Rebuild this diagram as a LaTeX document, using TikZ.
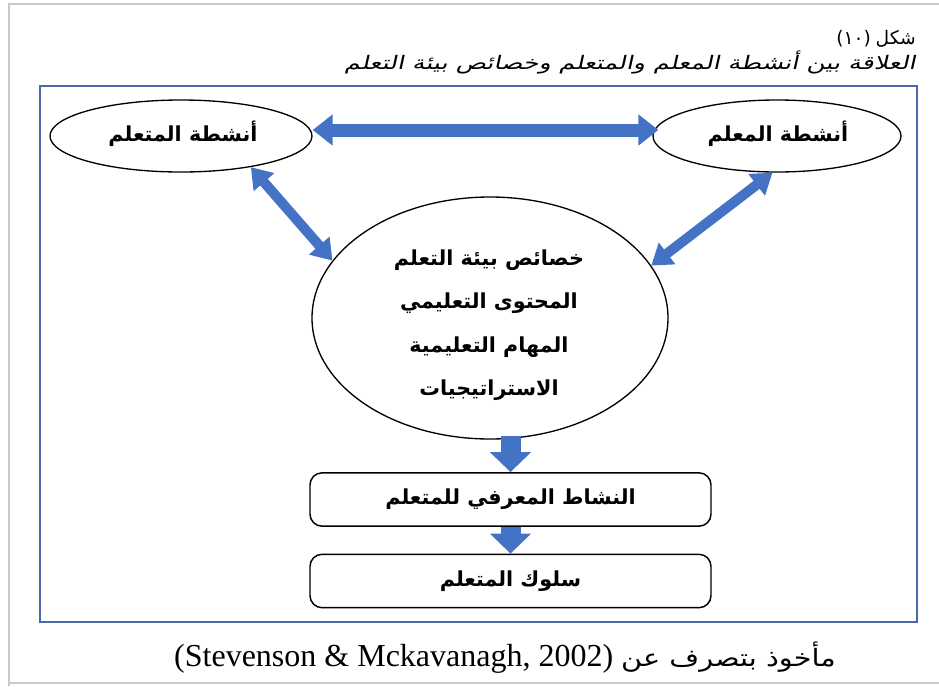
\documentclass[tikz,border=0pt]{standalone}
\usepackage{fontspec}
\setmainfont{Liberation Serif}
\newfontfamily\arabicfont[Script=Arabic]{DejaVu Sans}
\newfontfamily\arabicwide[Script=Arabic,FakeStretch=1.2]{DejaVu Sans}
\newfontfamily\arabicslant[Script=Arabic,FakeSlant=0.22,FakeStretch=1.35]{DejaVu Sans}
\newfontfamily\digitfont{DejaVu Sans}
\TeXXeTstate=1
\usetikzlibrary{arrows.meta,shapes.geometric}
\definecolor{frameblue}{HTML}{4A68AC}
\definecolor{arrowblue}{HTML}{4472C4}
\definecolor{pageedge}{HTML}{C9C9C9}
\begin{document}
\begin{tikzpicture}[x=0.75pt,y=-0.75pt,
  oval/.style={ellipse, draw=black, line width=1pt, inner sep=0pt},
  stagebox/.style={rectangle, rounded corners=9pt, draw=black, line width=1.1pt,
    minimum width=300.75pt, minimum height=40pt, inner sep=0pt},
  nodetext/.style={font=\arabicfont\bfseries\fontsize{15.5}{18}\selectfont},
  widearrow/.style={draw=arrowblue, line width=9.75pt,
    {Triangle[length=15pt,width=22.5pt]}-{Triangle[length=15pt,width=22.5pt]}},
  slantarrow/.style={draw=arrowblue, line width=7.5pt,
    {Triangle[length=15pt,width=19.5pt]}-{Triangle[length=15pt,width=19.5pt]}},
  downarrow/.style={draw=arrowblue, line width=15pt,
    -{Triangle[length=15pt,width=30pt]}}]
\useasboundingbox (0,0) rectangle (939,686);
\fill[white] (0,0) rectangle (939,686);

% page edge
\draw[pageedge, line width=1.8pt] (9,686) -- (9,4) -- (939,4);
\draw[pageedge, line width=1.8pt] (9,683) -- (939,683);

% heading above the frame
\node[anchor=east, inner sep=0pt] (fignum) at (916,39)
  {\fontsize{14}{16}\selectfont{\digitfont (١٠)} {\arabicfont\beginR شكل\endR}};
\node[anchor=east, inner sep=0pt] (figtitle) at (916,62)
  {\arabicslant\fontsize{14}{16}\selectfont\beginR العلاقة بين أنشطة المعلم والمتعلم وخصائص بيئة التعلم\endR};

% outer frame
\draw[frameblue, line width=1.5pt] (40,86) rectangle (917,622);

% actors
\node[oval, minimum width=196.5pt, minimum height=54pt] (learner) at (181,136) {};
\node[nodetext] at (183,134) {\beginR أنشطة المتعلم\endR};
\node[oval, minimum width=186pt, minimum height=54pt] (teacher) at (777,136) {};
\node[nodetext] at (778,134) {\beginR أنشطة المعلم\endR};

% learning environment
\node[oval, minimum width=267pt, minimum height=181.5pt] (env) at (490,318) {};
\node[nodetext, align=center, font=\arabicfont\bfseries\fontsize{15.5}{32.5}\selectfont] (envtext) at (489,325)
  {\beginR خصائص بيئة التعلم\endR\\
   \beginR المحتوى التعليمي\endR\\
   \beginR المهام التعليمية\endR\\
   \beginR الاستراتيجيات\endR};

% outcome stages
\node[stagebox] (cognition) at (510.5,499.5) {};
\node[nodetext] at (cognition.center) {\beginR النشاط المعرفي للمتعلم\endR};
\node[stagebox] (behaviour) at (510.5,581) {};
\node[nodetext] at (behaviour.center) {\beginR سلوك المتعلم\endR};

% connectors
\draw[widearrow, shorten >=-4.5pt] ([yshift=4.5pt]learner.east) -- ([yshift=4.5pt]teacher.west);
\draw[slantarrow] (learner.-24) -- (env.160);
\draw[slantarrow] (teacher.-97) -- (env.18);
\draw[downarrow, shorten <=-3pt] (env.south -| cognition.north) -- (cognition.north);
\draw[downarrow] (cognition.south) -- (behaviour.north);

% source line
\node[inner sep=0pt] (source) at (505,658)
  {\fontsize{24}{26}\selectfont (Stevenson \& Mckavanagh, 2002) {\arabicwide\fontsize{18}{26}\selectfont\beginR مأخوذ بتصرف عن\endR}};
\end{tikzpicture}
\end{document}
